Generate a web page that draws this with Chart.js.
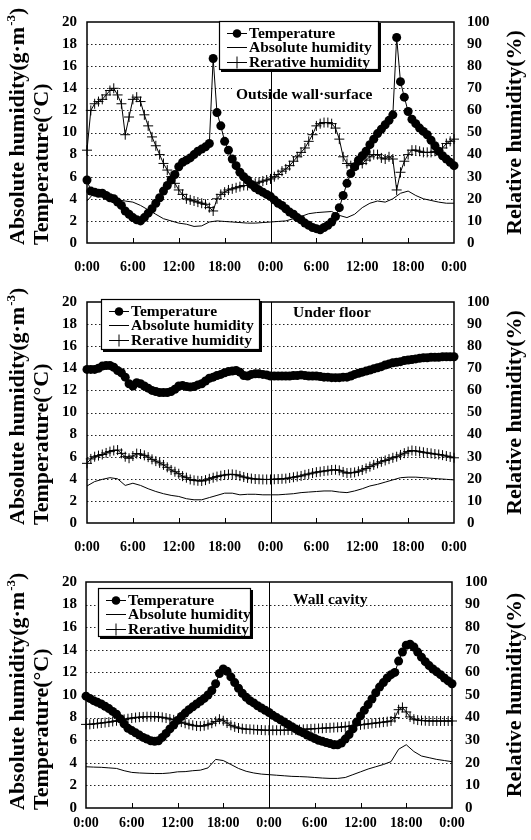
<!DOCTYPE html>
<html>
<head>
<meta charset="utf-8">
<script src="https://cdn.jsdelivr.net/npm/chart.js@4.4.1/dist/chart.umd.min.js"></script>
<style>
  html, body { margin: 0; padding: 0; background: #fff; }
  #wrap { position: relative; width: 531px; height: 840px; }
  .panel { position: absolute; left: 0; width: 531px; height: 280px; }
</style>
</head>
<body>
<div id="wrap">
  <div class="panel" style="top:0px"><canvas id="c1" width="531" height="280"></canvas></div>
  <div class="panel" style="top:280px"><canvas id="c2" width="531" height="280"></canvas></div>
  <div class="panel" style="top:560px"><canvas id="c3" width="531" height="280"></canvas></div>
</div>
<script>
// time axis (hours from the first midnight)
const HALF_HOURS = [];
for (let h = 0; h <= 48; h += 0.5) HALF_HOURS.push(h);
const HOURS = [];
for (let h = 0; h <= 48; h++) HOURS.push(h);

const timeLabels = ['0:00', '6:00', '12:00', '18:00', '0:00', '6:00', '12:00', '18:00', '0:00'];
const seriesNames = ['Temperature', 'Absolute humidity', 'Rerative humidity'];
const panelTitles = ['Outside wall\u00b7surface', 'Under floor', 'Wall cavity'];

// Outside wall-surface (temperature / RH every 30 min, absolute humidity hourly)
const outsideTemp = [
  5.7, 4.7, 4.6, 4.5, 4.5, 4.3, 4.1, 4.0, 3.7, 3.4,
  2.9, 2.6, 2.3, 2.1, 2.0, 2.3, 2.7, 3.1, 3.6, 4.1,
  4.7, 5.2, 5.7, 6.2, 6.9, 7.3, 7.5, 7.7, 8.0, 8.3,
  8.5, 8.7, 9.0, 16.7, 11.8, 10.6, 9.2, 8.4, 7.6, 7.0,
  6.4, 6.0, 5.7, 5.3, 5.0, 4.8, 4.6, 4.4, 4.2, 3.9,
  3.6, 3.4, 3.1, 2.8, 2.6, 2.3, 2.1, 1.8, 1.6, 1.4,
  1.3, 1.2, 1.4, 1.6, 1.9, 2.4, 3.2, 4.3, 5.4, 6.3,
  6.9, 7.5, 7.9, 8.3, 8.9, 9.4, 9.9, 10.3, 10.7, 11.1,
  11.6, 18.6, 14.6, 13.2, 11.9, 11.2, 10.8, 10.4, 10.1, 9.8,
  9.3, 8.8, 8.3, 7.9, 7.6, 7.3, 7.0
];
const outsideRH = [
  42, 60, 63, 64, 65, 67, 69, 70, 67, 63,
  49, 57, 65, 66, 64, 58, 53, 48, 44, 40,
  36, 33, 30, 27, 24, 22, 20, 19.5, 19, 18.5,
  18, 17.5, 16, 14.5, 20, 22, 23, 24, 24.5, 25,
  25.5, 26, 26, 26.5, 27, 27.5, 28, 28.5, 29, 30,
  31, 32.5, 33.5, 35, 37, 39, 41, 43, 46, 49,
  53, 54, 54.5, 54.5, 54, 52, 47, 39, 36, 35,
  35, 35.5, 36, 37.5, 39, 40, 40, 38.5, 38, 39,
  38, 24, 32, 37, 40, 42, 42, 41.5, 41, 41,
  41, 41.5, 42, 43, 45, 46, 47
];
const outsideAH = [
  3.8, 4.6, 4.3, 4.0, 3.9, 3.8, 3.7, 3.4, 3.0, 2.6,
  2.2, 2.0, 1.8, 1.7, 1.5, 1.55, 1.9, 2.0, 1.95, 1.9,
  1.85, 1.8, 1.8, 1.85, 1.9, 1.95, 2.0, 2.2, 2.4, 2.65,
  2.75, 2.8, 2.85, 2.5, 2.3, 2.6, 3.2, 3.6, 3.8, 3.7,
  4.0, 4.5, 4.7, 4.3, 4.0, 3.85, 3.7, 3.6, 3.6
];

// Under floor
const floorTemp = [
  13.9, 13.9, 13.9, 14.0, 14.2, 14.25, 14.25, 14.1, 13.8, 13.6,
  13.2, 12.6, 12.4, 12.7, 12.6, 12.4, 12.2, 12.0, 11.9, 11.8,
  11.8, 11.8, 11.9, 12.1, 12.4, 12.45, 12.35, 12.3, 12.35, 12.5,
  12.6, 12.85, 13.1, 13.2, 13.35, 13.45, 13.6, 13.7, 13.75, 13.8,
  13.65, 13.35, 13.3, 13.45, 13.5, 13.5, 13.45, 13.4, 13.3, 13.3,
  13.3, 13.3, 13.3, 13.3, 13.35, 13.35, 13.4, 13.35, 13.3, 13.3,
  13.3, 13.25, 13.2, 13.2, 13.15, 13.15, 13.15, 13.2, 13.2, 13.3,
  13.45, 13.55, 13.65, 13.75, 13.85, 13.95, 14.05, 14.15, 14.3, 14.4,
  14.5, 14.55, 14.6, 14.7, 14.75, 14.8, 14.85, 14.9, 14.95, 14.95,
  15.0, 15.0, 15.0, 15.05, 15.05, 15.05, 15.05
];
const floorRH = [
  27, 29, 30, 30.5, 31, 31.7, 32.3, 32.8, 33, 31.5,
  30, 29.3, 30.3, 31.4, 31.2, 30.6, 29.8, 28.8, 28, 27.2,
  26.3, 25.2, 24, 23.2, 22.3, 21.2, 20.5, 19.7, 19.3, 19.1,
  19, 19.4, 20, 20.5, 21, 21.4, 21.7, 22, 22, 21.8,
  21.3, 20.8, 20.4, 20.1, 19.9, 19.8, 19.7, 19.7, 19.7, 19.8,
  19.9, 20, 20.1, 20.4, 20.7, 21, 21.3, 21.8, 22.2, 22.6,
  23, 23.2, 23.5, 23.7, 24, 24.1, 23.8, 23.1, 22.6, 22.7,
  22.9, 23.4, 24, 24.7, 25.5, 26.3, 27, 27.7, 28.3, 28.9,
  29.5, 30, 30.8, 31.6, 32.3, 32.8, 32.6, 32.3, 32, 31.7,
  31.5, 31.2, 31, 30.7, 30.3, 29.9, 29.5
];
const floorAH = [
  3.35, 3.75, 3.95, 4.1, 4.0, 3.4, 3.6, 3.4, 3.1, 2.85,
  2.65, 2.5, 2.4, 2.2, 2.1, 2.1, 2.3, 2.5, 2.7, 2.7,
  2.55, 2.6, 2.6, 2.55, 2.55, 2.55, 2.6, 2.65, 2.75, 2.8,
  2.85, 2.9, 2.9, 2.8, 2.75, 2.9, 3.1, 3.35, 3.5, 3.7,
  3.9, 4.1, 4.15, 4.15, 4.1, 4.05, 4.0, 3.95, 3.9
];

// Wall cavity
const cavityTemp = [
  9.9, 9.7, 9.5, 9.35, 9.2, 9.0, 8.8, 8.55, 8.3, 7.9,
  7.45, 7.05, 6.85, 6.65, 6.45, 6.25, 6.1, 5.95, 5.9, 5.95,
  6.25, 6.6, 7.0, 7.35, 7.75, 8.1, 8.4, 8.7, 8.95, 9.2,
  9.45, 9.7, 10.0, 10.4, 11.0, 11.9, 12.3, 12.1, 11.6, 11.1,
  10.6, 10.15, 9.8, 9.5, 9.3, 9.05, 8.85, 8.65, 8.45, 8.2,
  8.0, 7.8, 7.6, 7.4, 7.2, 7.0, 6.8, 6.65, 6.45, 6.3,
  6.15, 6.0, 5.9, 5.8, 5.7, 5.6, 5.6, 5.75, 6.1, 6.5,
  7.0, 7.6, 8.15, 8.65, 9.15, 9.65, 10.2, 10.7, 11.1, 11.5,
  11.8, 12.0, 13.0, 13.8, 14.4, 14.5, 14.25, 13.8, 13.35, 12.95,
  12.6, 12.3, 12.05, 11.8, 11.5, 11.25, 11.0
];
const cavityRH = [
  37, 37, 37.2, 37.4, 37.6, 37.8, 38, 38.3, 38.6, 38.9,
  39.2, 39.5, 39.8, 40, 40.2, 40.3, 40.4, 40.4, 40.4, 40.3,
  40.1, 39.8, 39.4, 39, 38.5, 38, 37.5, 37, 36.6, 36.3,
  36.2, 36.4, 36.9, 37.5, 38.3, 39.3, 38.6, 37.6, 36.6, 35.9,
  35.4, 35.1, 34.9, 34.8, 34.7, 34.6, 34.5, 34.4, 34.4, 34.4,
  34.4, 34.4, 34.4, 34.5, 34.5, 34.6, 34.7, 34.8, 34.9, 35,
  35.1, 35.2, 35.3, 35.4, 35.5, 35.6, 35.7, 35.8, 36, 36.2,
  36.4, 36.6, 36.8, 37, 37.2, 37.4, 37.6, 37.8, 38, 38.2,
  38.5, 40, 43.5, 44.5, 42.5, 40.3, 39.3, 38.9, 38.7, 38.6,
  38.5, 38.5, 38.5, 38.5, 38.5, 38.5, 38.5
];
const cavityAH = [
  3.65, 3.62, 3.6, 3.55, 3.5, 3.3, 3.15, 3.1, 3.07, 3.05,
  3.05, 3.1, 3.2, 3.22, 3.3, 3.35, 3.55, 4.3, 4.2, 3.85,
  3.5, 3.25, 3.1, 3.0, 2.95, 2.9, 2.85, 2.8, 2.78, 2.75,
  2.7, 2.65, 2.62, 2.62, 2.7, 2.95, 3.2, 3.45, 3.65, 3.85,
  4.1, 5.2, 5.6, 5.0, 4.6, 4.45, 4.3, 4.2, 4.1
];

const SERIF = '"Liberation Serif", "Times New Roman", serif';

function series(hours, values) {
  return hours.map((h, i) => ({x: h, y: values[i]}));
}

function makeDatasets(temp, ah, rh) {
  return [
    {
      label: seriesNames[0], data: series(HALF_HOURS, temp), yAxisID: 'y',
      borderColor: '#000', backgroundColor: '#000', borderWidth: 1,
      pointStyle: 'circle', pointRadius: 4.5, pointBorderWidth: 0, clip: false
    },
    {
      label: seriesNames[1], data: series(HOURS, ah), yAxisID: 'y',
      borderColor: '#000', borderWidth: 1, pointRadius: 0, clip: false
    },
    {
      label: seriesNames[2], data: series(HALF_HOURS, rh), yAxisID: 'y1',
      borderColor: '#000', backgroundColor: '#000', borderWidth: 1,
      pointStyle: 'cross', pointRadius: 5, pointBorderWidth: 1, clip: false
    }
  ];
}

function drawLegend(ctx, b) {
  ctx.save();
  ctx.fillStyle = '#000';
  ctx.fillRect(b.x + 2, b.y + 2, b.w, b.h);
  ctx.fillStyle = '#fff';
  ctx.fillRect(b.x, b.y, b.w, b.h);
  ctx.strokeStyle = '#000';
  ctx.lineWidth = 1.2;
  ctx.strokeRect(b.x + 0.5, b.y + 0.5, b.w - 1, b.h - 1);
  const rows = [11.5, 26, 40.5];
  ctx.font = 'bold 15.5px ' + SERIF;
  ctx.textBaseline = 'middle';
  ctx.textAlign = 'left';
  rows.forEach((dy, i) => {
    const yy = Math.round(b.y + dy) + 0.5;
    const x0 = b.x + 8, x1 = b.x + 28;
    ctx.strokeStyle = '#000';
    ctx.lineWidth = 1;
    ctx.beginPath(); ctx.moveTo(x0, yy); ctx.lineTo(x1, yy); ctx.stroke();
    const cx = (x0 + x1) / 2;
    if (i === 0) {
      ctx.beginPath(); ctx.arc(cx, yy, 4.3, 0, Math.PI * 2); ctx.fillStyle = '#000'; ctx.fill();
    } else if (i === 2) {
      ctx.beginPath(); ctx.moveTo(cx, yy - 6); ctx.lineTo(cx, yy + 6); ctx.stroke();
    }
    ctx.fillStyle = '#000';
    ctx.fillText(seriesNames[i], b.x + 30, b.y + dy + 1);
  });
  ctx.restore();
}

const panelDeco = {
  id: 'panelDeco',
  beforeDatasetsDraw(chart, args, o) {
    const {ctx, chartArea: a, scales: {x, y}} = chart;
    ctx.save();
    // dotted grid lines
    ctx.strokeStyle = '#222';
    ctx.lineWidth = 1;
    ctx.setLineDash([1.5, 2.5]);
    for (let v = 2; v < 20; v += 2) {
      const py = Math.round(y.getPixelForValue(v)) + 0.5;
      ctx.beginPath(); ctx.moveTo(a.left, py); ctx.lineTo(a.right, py); ctx.stroke();
    }
    ctx.setLineDash([]);
    // location label
    ctx.font = 'bold 15.5px ' + SERIF;
    ctx.textBaseline = 'middle';
    ctx.textAlign = 'left';
    if (o.labelBox) {
      ctx.fillStyle = '#fff';
      ctx.fillRect(o.labelBox[0], o.labelBox[1], o.labelBox[2], o.labelBox[3]);
    }
    ctx.fillStyle = '#000';
    ctx.fillText(o.label, o.labelX, o.labelY);
    // midnight line
    ctx.strokeStyle = '#000';
    ctx.lineWidth = 1;
    const mx = Math.round(x.getPixelForValue(24)) + 0.5;
    ctx.beginPath(); ctx.moveTo(mx, a.top); ctx.lineTo(mx, a.bottom); ctx.stroke();
    // inner tick marks on time axis
    [6, 12, 18, 30, 36, 42].forEach(h => {
      const tx = Math.round(x.getPixelForValue(h)) + 0.5;
      ctx.beginPath(); ctx.moveTo(tx, a.bottom); ctx.lineTo(tx, a.bottom - 5); ctx.stroke();
    });
    // frame
    ctx.lineWidth = 1.5;
    ctx.strokeRect(a.left, a.top, a.right - a.left, a.bottom - a.top);
    ctx.restore();
  },
  afterDatasetsDraw(chart, args, o) {
    drawLegend(chart.ctx, o.legend);
  },
  afterDraw(chart, args, o) {
    const {ctx, chartArea: a} = chart;
    ctx.save();
    ctx.fillStyle = '#000';
    ctx.textBaseline = 'alphabetic';
    // left title, two lines, reading upward from the bottom of the plot
    ctx.translate(24, a.bottom + 2);
    ctx.rotate(-Math.PI / 2);
    ctx.textAlign = 'left';
    ctx.font = 'bold 22px ' + SERIF;
    const t1 = 'Absolute humidity(g\u00b7m';
    ctx.fillText(t1, 0, 0);
    let w = ctx.measureText(t1).width;
    ctx.font = 'bold 13px ' + SERIF;
    ctx.fillText('-3', w + 1, -9);
    w += ctx.measureText('-3').width + 1;
    ctx.font = 'bold 22px ' + SERIF;
    ctx.fillText(')', w, 0);
    ctx.fillText('Temperature(\u00b0C)', 0, 24);
    ctx.restore();
    // right title
    ctx.save();
    ctx.fillStyle = '#000';
    ctx.font = 'bold 22px ' + SERIF;
    ctx.textAlign = 'center';
    ctx.textBaseline = 'alphabetic';
    ctx.translate(521, (a.top + a.bottom) / 2);
    ctx.rotate(-Math.PI / 2);
    ctx.fillText('Relative humidity(%)', 0, 0);
    ctx.restore();
  }
};

function makeChart(id, p, temp, ah, rh) {
  return new Chart(document.getElementById(id), {
    type: 'line',
    data: {datasets: makeDatasets(temp, ah, rh)},
    plugins: [panelDeco],
    options: {
      responsive: false,
      animation: false,
      events: [],
      layout: {padding: {top: p.top, left: 0, right: 0, bottom: 0}, autoPadding: false},
      elements: {line: {tension: 0}},
      plugins: {
        legend: {display: false},
        tooltip: {enabled: false},
        panelDeco: p
      },
      scales: {
        x: {
          type: 'linear', min: 0, max: 48,
          grid: {display: false, drawTicks: false}, border: {display: false},
          afterFit: s => { s.height = p.xHeight; },
          afterBuildTicks: s => { s.ticks = timeLabels.map((t, i) => ({value: i * 6})); },
          ticks: {
            autoSkip: false, maxRotation: 0, padding: p.xPad, color: '#000',
            font: {family: SERIF, size: 14, weight: 'bold'},
            callback: (v, i) => timeLabels[i]
          }
        },
        y: {
          position: 'left', min: 0, max: 20,
          grid: {display: false, drawTicks: false}, border: {display: false},
          afterFit: s => { s.width = p.leftW; },
          ticks: {stepSize: 2, padding: p.leftPad, color: '#000', font: {family: SERIF, size: 15, weight: 'bold'}}
        },
        y1: {
          position: 'right', min: 0, max: 100,
          grid: {display: false, drawTicks: false}, border: {display: false},
          afterFit: s => { s.width = p.rightW; },
          ticks: {stepSize: 10, padding: 13, color: '#000', font: {family: SERIF, size: 15, weight: 'bold'}}
        }
      }
    }
  });
}

makeChart('c1', {
  top: 14, xHeight: 37, xPad: 16, leftW: 87, rightW: 77, leftPad: 10,
  label: panelTitles[0], labelX: 236, labelY: 95, labelBox: [232, 83, 150, 25],
  legend: {x: 219, y: 21, w: 160, h: 49}
}, outsideTemp, outsideAH, outsideRH);

makeChart('c2', {
  top: 15, xHeight: 37, xPad: 16, leftW: 87, rightW: 77, leftPad: 10,
  label: panelTitles[1], labelX: 293, labelY: 33,
  legend: {x: 101, y: 19, w: 159, h: 51}
}, floorTemp, floorAH, floorRH);

makeChart('c3', {
  top: 20, xHeight: 32, xPad: 7, leftW: 86, rightW: 79, leftPad: 9,
  label: panelTitles[2], labelX: 293, labelY: 40,
  legend: {x: 98, y: 28, w: 153, h: 49}
}, cavityTemp, cavityAH, cavityRH);
</script>
</body>
</html>
